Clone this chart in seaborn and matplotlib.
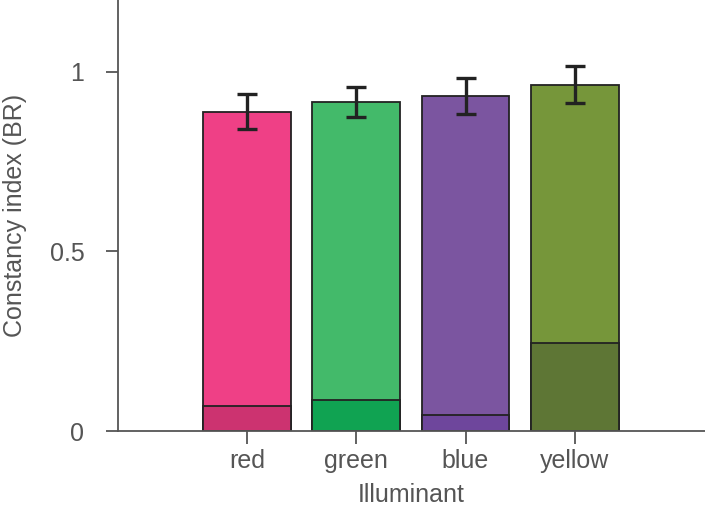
import pandas as pd
import seaborn as sns
from matplotlib import pyplot as plt

# values
illuminants = ["red", "green", "blue", "yellow"]
constancy = [0.889, 0.916, 0.933, 0.964]
constancy_err = [0.049, 0.043, 0.050, 0.052]
baseline = [0.070, 0.086, 0.046, 0.245]

top_colors = ["#EF4086", "#43BA6A", "#7B55A0", "#76963A"]
low_colors = ["#CC3370", "#10A352", "#6E469C", "#5E7635"]

df = pd.DataFrame({"illuminant": illuminants, "ci": constancy,
                   "err": constancy_err, "base": baseline})

sns.set_style("ticks")
plt.rcParams['font.family'] = ['Liberation Sans', 'DejaVu Sans']
text_col = "#555555"

fig = plt.figure(figsize=(7.05, 5.12), dpi=100)
ax = fig.add_axes([0.167, 0.158, 0.833, 0.842])

sns.barplot(data=df, x="illuminant", y="ci", hue="illuminant",
            palette=top_colors, saturation=1, width=0.8, edgecolor="#222222",
            linewidth=1.3, errorbar=None, legend=False, ax=ax)
sns.barplot(data=df, x="illuminant", y="base", hue="illuminant",
            palette=low_colors, saturation=1, width=0.8, edgecolor="#222222",
            linewidth=1.3, errorbar=None, legend=False, ax=ax)

ax.errorbar(range(len(df)), df["ci"], yerr=df["err"], fmt="none",
            ecolor="#222222", elinewidth=2.4, capsize=7.5, capthick=2.4,
            zorder=5)

ax.set_xlim(-1.18, 4.19)
ax.set_ylim(0, 1.2)
ax.set_yticks([0, 0.5, 1])
ax.set_yticklabels(["0", "0.5", "1"])

for side in ["top", "right"]:
    ax.spines[side].set_visible(False)
for side in ["left", "bottom"]:
    ax.spines[side].set_color("#555555")
    ax.spines[side].set_linewidth(1.3)

ax.tick_params(axis="both", colors="#555555", labelcolor=text_col,
               labelsize=18, length=9, width=1.3, direction="out")
ax.tick_params(axis="x", pad=4)
ax.tick_params(axis="y", pad=15)
ax.set_xlabel("Illuminant", fontsize=18, color=text_col, labelpad=7)
ax.set_ylabel("Constancy index (BR)", fontsize=18, color=text_col, labelpad=16)

plt.savefig("out.png", dpi=100)
